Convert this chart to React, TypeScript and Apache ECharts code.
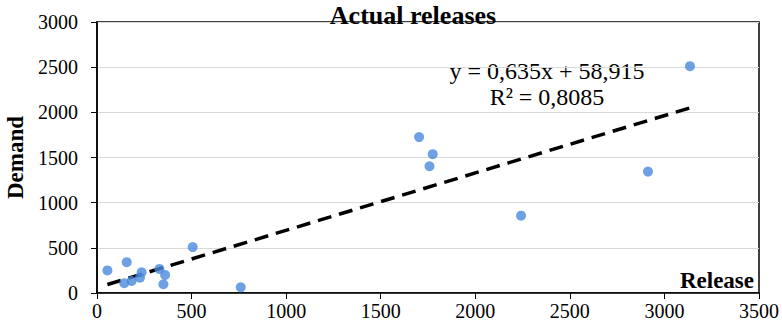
import React, { useEffect, useRef } from "react";
import * as echarts from "echarts";

const releases = [55, 157, 144, 183, 236, 227, 330, 360, 351, 506, 760, 1703, 1775, 1758, 2242, 2913, 3135];
const demand = [250, 341, 108, 133, 230, 170, 267, 200, 97, 508, 63, 1726, 1537, 1403, 856, 1344, 2511];
const slope = 0.635;
const intercept = 58.915;
const equationLines = ["y = 0,635x + 58,915", "R² = 0,8085"];
const titleText = "Actual releases";
const xName = "Release";
const yName = "Demand";

const FONT = "Liberation Serif";

export default function App() {
  const ref = useRef<HTMLDivElement>(null);
  useEffect(() => {
    if (!ref.current) return;
    const chart = echarts.init(ref.current, null, { renderer: "svg" });
    const pts = releases.map((x, i) => [x, demand[i]]);
    const xmin = Math.min(...releases);
    const xmax = Math.max(...releases);
    const trend = [
      [xmin, slope * xmin + intercept],
      [xmax, slope * xmax + intercept],
    ];
    chart.setOption({
      animation: false,
      textStyle: { fontFamily: FONT },
      grid: {
        left: 97,
        right: 23,
        top: 22,
        bottom: 39,
        show: true,
        borderColor: "#000",
        borderWidth: 1.5,
        backgroundColor: "transparent",
        containLabel: false,
        outerBoundsMode: "none",
      },
      xAxis: {
        type: "value",
        min: 0,
        max: 3500,
        interval: 500,
        axisLine: { show: true, onZero: false, lineStyle: { color: "#000", width: 1.5 } },
        axisTick: { show: true, length: 6, lineStyle: { color: "#000" } },
        axisLabel: {
          color: "#000",
          fontSize: 20,
          fontFamily: FONT,
          margin: 8,
          formatter: (v: number) => String(v),
        },
        splitLine: { show: false },
      },
      yAxis: {
        type: "value",
        min: 0,
        max: 3000,
        interval: 500,
        name: yName,
        nameLocation: "middle",
        nameGap: 70,
        nameTextStyle: { color: "#000", fontSize: 23, fontWeight: "bold", fontFamily: FONT },
        axisLine: { show: true, lineStyle: { color: "#000", width: 1.5 } },
        axisTick: { show: true, length: 6, lineStyle: { color: "#000" } },
        axisLabel: {
          color: "#000",
          fontSize: 20,
          fontFamily: FONT,
          margin: 19,
          formatter: (v: number) => String(v),
        },
        splitLine: { show: true, lineStyle: { color: "#d9d9d9", width: 1 } },
      },
      series: [
        {
          type: "scatter",
          data: pts,
          symbolSize: 10,
          itemStyle: { color: "#4a89dc" },
          z: 3,
        },
        {
          type: "line",
          data: trend,
          showSymbol: false,
          symbol: "none",
          lineStyle: { color: "#000", width: 3.5, type: [14, 8] },
          z: 2,
        },
      ],
      graphic: [
        {
          type: "text",
          x: 413,
          y: 15,
          style: {
            text: titleText,
            font: `bold 26px ${FONT}`,
            fill: "#000",
            align: "center",
            verticalAlign: "middle",
          },
          z: 10,
        },
        {
          type: "text",
          x: 547,
          y: 71,
          style: {
            text: equationLines[0],
            font: `24px ${FONT}`,
            fill: "#000",
            align: "center",
            verticalAlign: "middle",
          },
        },
        {
          type: "text",
          x: 547,
          y: 97,
          style: {
            text: equationLines[1],
            font: `24px ${FONT}`,
            fill: "#000",
            align: "center",
            verticalAlign: "middle",
          },
        },
        {
          type: "text",
          x: 754,
          y: 280,
          style: {
            text: xName,
            font: `bold 23px ${FONT}`,
            fill: "#000",
            align: "right",
            verticalAlign: "middle",
          },
        },
      ],
    });
    return () => chart.dispose();
  }, []);
  return <div ref={ref} style={{ width: 782, height: 332, position: "absolute", left: 0, top: 0 }} />;
}
